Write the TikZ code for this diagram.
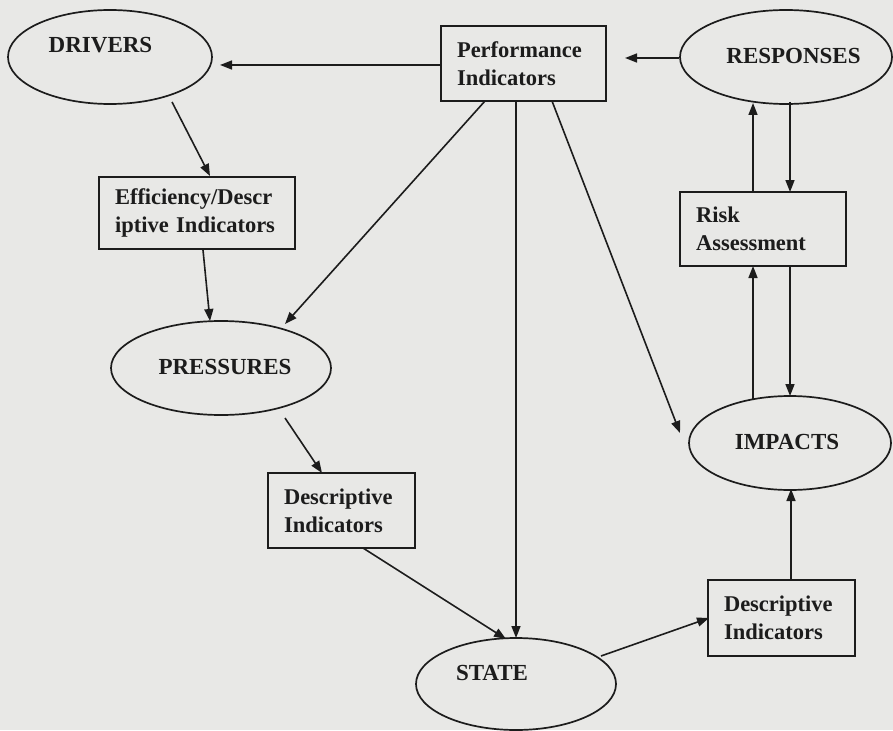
\documentclass[tikz,border=0pt]{standalone}
\usepackage{fontspec}
\setmainfont{Liberation Serif}
\usetikzlibrary{arrows.meta,shapes.geometric,calc}
\definecolor{paper}{RGB}{232,232,230}
\definecolor{ink}{RGB}{28,28,28}
\begin{document}
\begin{tikzpicture}[x=1pt,y=-1pt,
  box/.style={draw=ink, line width=1.7pt, rectangle, inner xsep=16pt, inner ysep=0pt,
    align=left, text=ink, font=\bfseries\fontsize{22.5}{28}\selectfont},
  oval/.style={draw=ink, line width=1.7pt, ellipse, inner sep=0pt},
  lbl/.style={inner sep=0pt, text=ink, font=\bfseries\fontsize{23}{28}\selectfont},
  arr/.style={draw=ink, line width=1.6pt, -{Triangle[length=12pt,width=9pt]}}]
\fill[paper] (0,0) rectangle (893,730);
\useasboundingbox (0,0) rectangle (893,730);

% ellipses
\node[oval, minimum width=204pt, minimum height=94pt] (drivers) at (110,57) {};
\node[lbl] (driversT) at (100.5,45) {DRIVERS};
\node[oval, minimum width=212pt, minimum height=94pt] (resp) at (786,57) {};
\node[lbl] (respT) at (793.5,56) {RESPONSES};
\node[oval, minimum width=220pt, minimum height=94pt] (pres) at (221,368) {};
\node[lbl] (presT) at (225,367) {PRESSURES};
\node[oval, minimum width=202pt, minimum height=94pt] (impacts) at (790,443) {};
\node[lbl] (impactsT) at (787,441.5) {IMPACTS};
\node[oval, minimum width=200pt, minimum height=92pt] (state) at (516,684) {};
\node[lbl] (stateT) at (492,673) {STATE};

% boxes
\node[box, text width=133pt, minimum height=75pt] (perf) at (523.5,63.5) {Performance\\Indicators};
\node[box, text width=164pt, minimum height=72pt] (eff) at (197,213) {Efficiency/Descr\\iptive Indicators};
\node[box, text width=134pt, minimum height=74pt] (risk) at (763,229) {Risk\\Assessment};
\node[box, text width=115pt, minimum height=75pt] (desc1) at (341.5,510.5) {Descriptive\\Indicators};
\node[box, text width=115pt, minimum height=76pt] (desc2) at (781.5,618) {Descriptive\\Indicators};

% connectors
\draw[arr] ($(perf)+(-82.5,1.5)$) -- ($(drivers)+(110,8)$);
\draw[arr] ($(resp)+(-107,1)$) -- ($(perf)+(101.5,-5.5)$);
\draw[arr] ($(drivers)+(62,45)$) -- ($(eff)+(13,-37)$);
\draw[arr] ($(eff)+(6,37)$) -- ($(pres)+(-11,-47)$);
\draw[arr] ($(perf)+(-38.5,37.5)$) -- ($(pres)+(64,-44)$);
\draw[arr] ($(perf)+(-7.5,37.5)$) -- ($(state)+(0,-46)$);
\draw[arr] ($(perf)+(28.5,37.5)$) -- ($(impacts)+(-110,-10)$);
\draw[arr] ($(risk)+(-10,-37)$) -- ($(resp)+(-33,46)$);
\draw[arr] ($(resp)+(4,45)$) -- ($(risk)+(27,-37)$);
\draw[arr] ($(impacts)+(-37,-44)$) -- ($(risk)+(-10,37)$);
\draw[arr] ($(risk)+(27,37)$) -- ($(impacts)+(0,-47)$);
\draw[arr] ($(pres)+(64,50)$) -- ($(desc1)+(-19.5,-37.5)$);
\draw[arr] ($(desc1)+(21.5,37.5)$) -- ($(state)+(-10,-45)$);
\draw[arr] ($(state)+(85,-28)$) -- ($(desc2)+(-72.5,0)$);
\draw[arr] ($(desc2)+(9.5,-38)$) -- ($(impacts)+(1,46)$);
\end{tikzpicture}
\end{document}
